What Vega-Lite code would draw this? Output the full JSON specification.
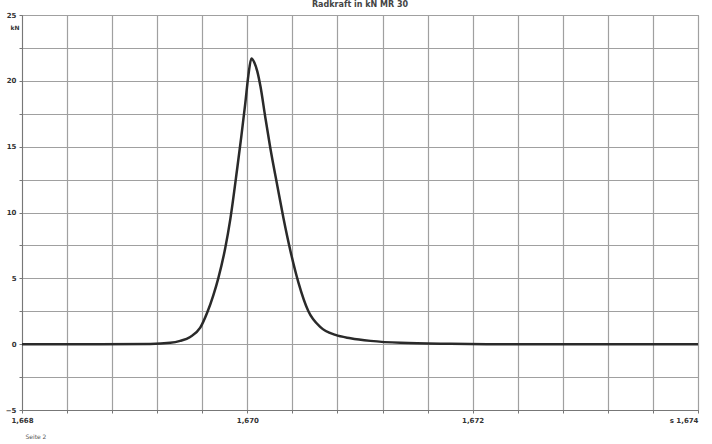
{
  "$schema": "https://vega.github.io/schema/vega-lite/v6.json",
  "autosize": "none",
  "width": 676,
  "height": 395,
  "padding": {"left": 22, "top": 15, "right": 14, "bottom": 34},
  "background": "white",
  "title": {"text": "Radkraft in kN MR 30", "fontSize": 8, "font": "DejaVu Sans", "fontWeight": "bold", "color": "#444", "offset": 2},
  "config": {"view": {"stroke": "#999", "strokeWidth": 1}},
  "data": {"values": [
    {"t": 1.668, "f": 0},
    {"t": 1.668693, "f": 0},
    {"t": 1.669138, "f": 0.02},
    {"t": 1.669316, "f": 0.1},
    {"t": 1.669404, "f": 0.25},
    {"t": 1.669493, "f": 0.55},
    {"t": 1.669582, "f": 1.25},
    {"t": 1.669644, "f": 2.4},
    {"t": 1.669698, "f": 3.7},
    {"t": 1.669742, "f": 5.0},
    {"t": 1.669804, "f": 7.3},
    {"t": 1.669849, "f": 9.5},
    {"t": 1.669911, "f": 13.4},
    {"t": 1.669947, "f": 15.8},
    {"t": 1.669982, "f": 18.3},
    {"t": 1.670009, "f": 20.4},
    {"t": 1.670036, "f": 21.7},
    {"t": 1.670062, "f": 21.4},
    {"t": 1.670089, "f": 20.7},
    {"t": 1.670116, "f": 19.6},
    {"t": 1.67016, "f": 17.2},
    {"t": 1.670204, "f": 14.9},
    {"t": 1.670267, "f": 12.0},
    {"t": 1.67032, "f": 9.6},
    {"t": 1.670382, "f": 7.1},
    {"t": 1.670453, "f": 4.7},
    {"t": 1.670542, "f": 2.5},
    {"t": 1.670649, "f": 1.3},
    {"t": 1.670782, "f": 0.7},
    {"t": 1.670916, "f": 0.45},
    {"t": 1.671093, "f": 0.25},
    {"t": 1.67136, "f": 0.1},
    {"t": 1.671804, "f": 0.03},
    {"t": 1.672249, "f": 0},
    {"t": 1.673138, "f": 0},
    {"t": 1.674, "f": 0}
  ]},
  "mark": {"type": "line", "color": "#2a2a2a", "strokeWidth": 2.5, "clip": true, "interpolate": "monotone"},
  "encoding": {
    "x": {
      "field": "t", "type": "quantitative",
      "scale": {"domain": [1.668, 1.674], "nice": false, "zero": false},
      "axis": {
        "values": [1.668, 1.6684, 1.6688, 1.6692, 1.6696, 1.67, 1.6704, 1.6708, 1.6712, 1.6716, 1.672, 1.6724, 1.6728, 1.6732, 1.6736, 1.674],
        "labelExpr": "abs(datum.value - 1.674) < 0.00001 ? 's   1,674' : (abs(datum.value*500 - round(datum.value*500)) < 0.001 ? replace(format(datum.value, '.3f'), '.', ',') : '')",
        "labelAlign": {"condition": {"test": "datum.value > 1.67395", "value": "right"}, "value": "center"},
        "labelDx": {"condition": {"test": "datum.value > 1.67395", "value": 12}, "value": 0},
        "labelFontSize": 7, "labelFont": "DejaVu Sans", "labelColor": "#333", "labelFontWeight": "bold",
        "labelPadding": 3, "labelOverlap": false, "labelFlush": false,
        "grid": true, "gridColor": "#a0a0a0", "gridWidth": 1.2,
        "domainColor": "#777", "tickColor": "#777", "tickSize": 3,
        "title": "Seite 2", "titleFontSize": 6, "titleFont": "DejaVu Sans", "titleFontWeight": "normal", "titleColor": "#555",
        "titleAnchor": "start", "titleAlign": "left", "titleBaseline": "top", "titleX": 3, "titleY": 23
      }
    },
    "y": {
      "field": "f", "type": "quantitative",
      "scale": {"domain": [-5, 25], "nice": false, "zero": false},
      "axis": {
        "values": [-5, -2.5, 0, 2.5, 5, 7.5, 10, 12.5, 15, 17.5, 20, 22.5, 25],
        "labelExpr": "datum.value % 5 == 0 ? format(datum.value, 'd') : ''",
        "labelFontSize": 7, "labelFont": "DejaVu Sans", "labelColor": "#333", "labelFontWeight": "bold",
        "labelPadding": 3, "labelOverlap": false, "labelFlush": false,
        "grid": true, "gridColor": "#a0a0a0", "gridWidth": 1.2,
        "domainColor": "#777", "tickColor": "#777", "tickSize": 3,
        "title": "kN", "titleAngle": 0, "titleFontSize": 6, "titleFont": "DejaVu Sans", "titleFontWeight": "bold", "titleColor": "#333",
        "titleAlign": "right", "titleBaseline": "middle", "titleX": -3, "titleY": 12
      }
    }
  }
}
